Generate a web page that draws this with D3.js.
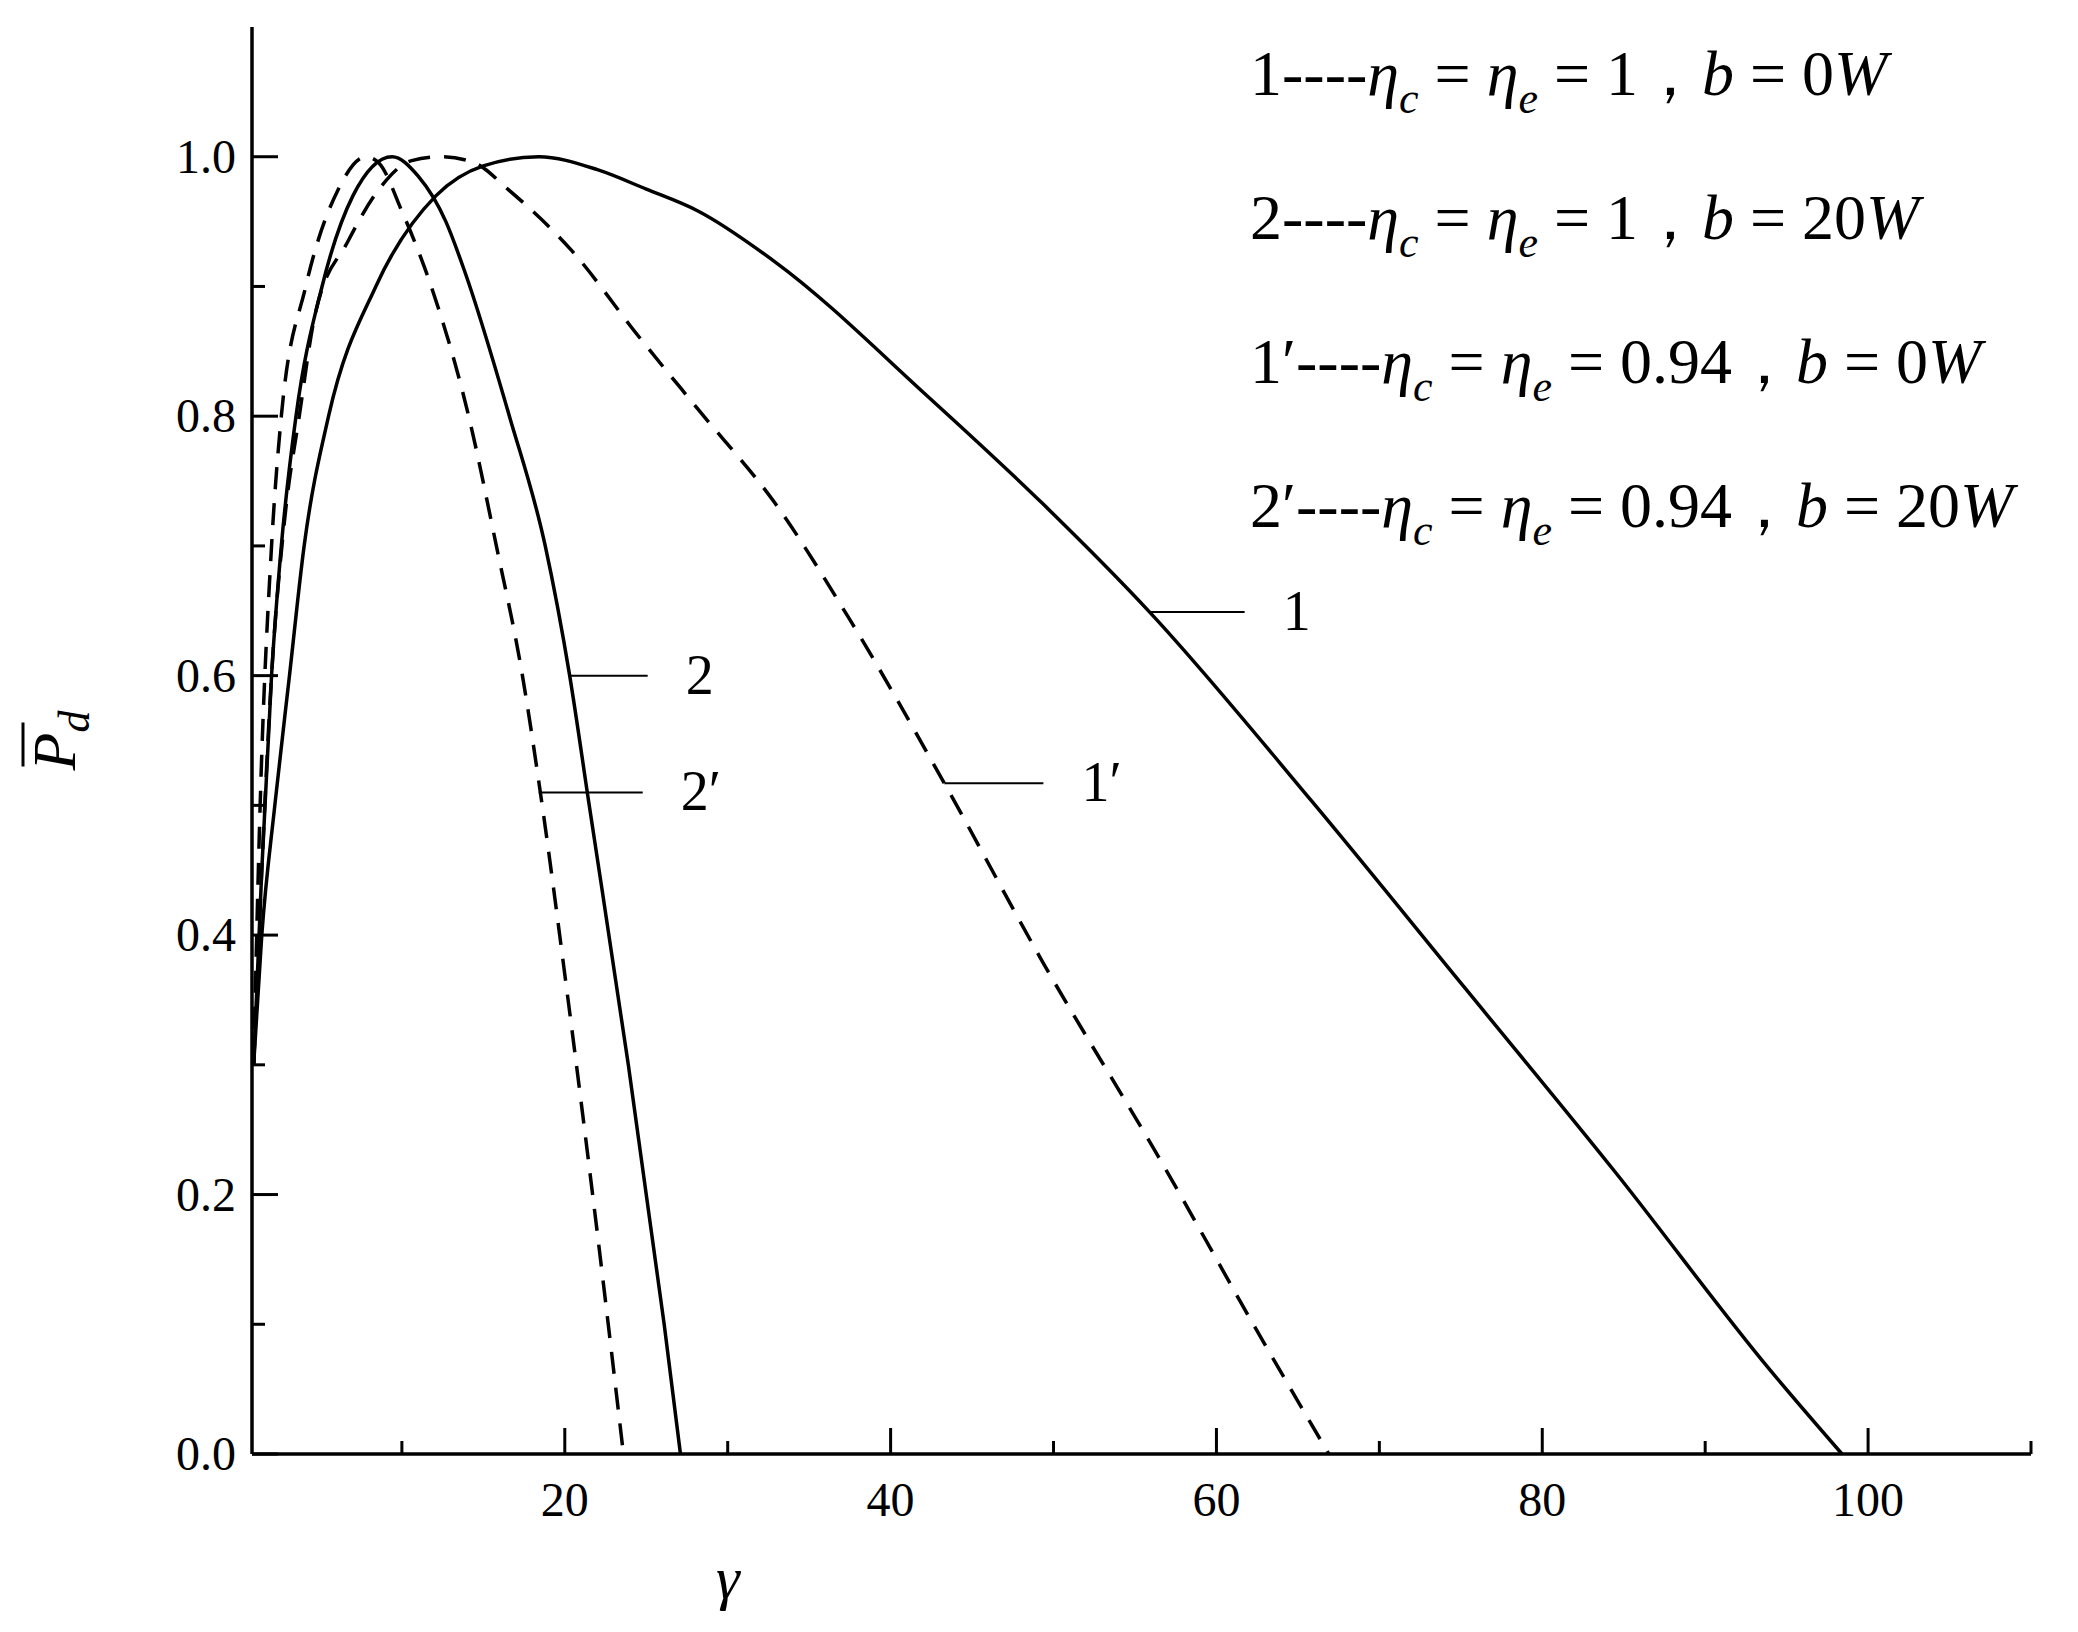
<!DOCTYPE html>
<html><head><meta charset="utf-8">
<script src="https://cdn.jsdelivr.net/npm/d3@7"></script>
<style>body{margin:0;background:#fff}text{font-family:"Liberation Serif","Times New Roman",Times,serif}</style>
</head><body><div id="chart"></div>
<script>
// curve data: [gamma, Pd]
const curve1 = [[0.9,0.30],[1.4,0.40],[2.2,0.50],[3.1,0.60],[4.0,0.70],[5.5,0.80],[8.4,0.90],[12.1,0.97],[15,0.993],[18.4,1.0],[22,0.99],[25,0.975],[28.2,0.958],[32.9,0.919],[42.3,0.815],[49.3,0.733],[55.9,0.649],[65.8,0.504],[75.2,0.36],[84.5,0.217],[93.9,0.066],[98.4,0.0]];
const curve2 = [[0.9,0.30],[1.4,0.45],[2.0,0.60],[2.6,0.70],[3.5,0.80],[5.1,0.90],[7,0.97],[9.4,1.0],[11,0.985],[12.7,0.95],[13.9,0.91],[16.6,0.80],[18.8,0.70],[20.3,0.60],[21.5,0.50],[23.9,0.30],[26.1,0.10],[27.1,0.0]];
const curve1p = [[0.9,0.30],[1.4,0.45],[2.0,0.60],[2.8,0.72],[3.7,0.80],[4.7,0.88],[6.7,0.935],[8.6,0.975],[10.6,0.997],[12.5,1.0],[14.5,0.995],[16.5,0.975],[20.4,0.928],[24.5,0.862],[28.2,0.805],[32.9,0.733],[37.6,0.641],[43.3,0.517],[49.3,0.38],[56.4,0.23],[62.9,0.086],[66.9,0.0]];
const curve2p = [[0.9,0.30],[1.3,0.50],[2.0,0.70],[2.6,0.80],[4.1,0.90],[6.1,0.975],[7.8,1.0],[8.6,0.995],[10.0,0.958],[11.8,0.90],[14.1,0.80],[15.8,0.70],[17.4,0.60],[18.5,0.51],[20.1,0.36],[22,0.17],[23.6,0.0]];
const labels = [
  {name:"1", g:55.9, p:0.649, len:95},
  {name:"2", g:20.3, p:0.60, len:78},
  {name:"2′", g:18.4, p:0.51, len:104},
  {name:"1′", g:43.3, p:0.517, len:99}
];
const xMajor = [20,40,60,80,100], xMinor = [10,30,50,70,90,110];
const yMajor = [0,0.2,0.4,0.6,0.8,1.0], yMinor = [0.1,0.3,0.5,0.7,0.9];
const legend = [
  {n:"1", prime:false, eta:"1", b:"0"},
  {n:"2", prime:false, eta:"1", b:"20"},
  {n:"1", prime:true, eta:"0.94", b:"0"},
  {n:"2", prime:true, eta:"0.94", b:"20"}
];

const W = 2078, H = 1632;
const svg = d3.select("#chart").append("svg").attr("width", W).attr("height", H);
const x = d3.scaleLinear().domain([0.8, 110]).range([252, 2031]);
const y = d3.scaleLinear().domain([0, 1.1]).range([1454, 27]);

// axes lines
svg.append("line").attr("x1", x(0.8)).attr("x2", x(110)).attr("y1", y(0)).attr("y2", y(0)).attr("stroke", "#000").attr("stroke-width", 3.5);
svg.append("line").attr("x1", x(0.8)).attr("x2", x(0.8)).attr("y1", y(0)).attr("y2", y(1.1)).attr("stroke", "#000").attr("stroke-width", 3.5);

const tk = svg.append("g").attr("stroke", "#000").attr("stroke-width", 3);
xMajor.forEach(v => tk.append("line").attr("x1", x(v)).attr("x2", x(v)).attr("y1", y(0)).attr("y2", y(0) - 26));
xMinor.forEach(v => tk.append("line").attr("x1", x(v)).attr("x2", x(v)).attr("y1", y(0)).attr("y2", y(0) - 13));
yMajor.forEach(v => tk.append("line").attr("x1", x(0.8)).attr("x2", x(0.8) + 26).attr("y1", y(v)).attr("y2", y(v)));
yMinor.forEach(v => tk.append("line").attr("x1", x(0.8)).attr("x2", x(0.8) + 13).attr("y1", y(v)).attr("y2", y(v)));

svg.selectAll(".xl").data(xMajor).join("text").attr("x", d => x(d)).attr("y", y(0) + 62)
  .attr("text-anchor", "middle").attr("font-size", 48).text(d => d);
svg.selectAll(".yl").data(yMajor).join("text").attr("x", x(0.8) - 16).attr("y", d => y(d) + 16)
  .attr("text-anchor", "end").attr("font-size", 48).text(d => d.toFixed(1));

svg.append("text").attr("x", x(30)).attr("y", 1598).attr("text-anchor", "middle")
  .attr("font-size", 60).attr("font-style", "italic").text("γ");
const yt = svg.append("g").attr("transform", `translate(75,${y(0.55)}) rotate(-90)`);
yt.append("text").attr("text-anchor", "middle").attr("font-size", 62).attr("font-style", "italic")
  .html('P<tspan font-size="44" dy="14">d</tspan>');
yt.append("line").attr("x1", -26).attr("x2", 18).attr("y1", -52).attr("y2", -52).attr("stroke", "#000").attr("stroke-width", 3);

// curves
const line = d3.line().x(d => x(d[0])).y(d => y(d[1])).curve(d3.curveMonotoneX);
const series = [
  {data: curve1, dash: null}, {data: curve2, dash: null},
  {data: curve1p, dash: "22,14"}, {data: curve2p, dash: "22,14"}
];
svg.selectAll(".curve").data(series).join("path").attr("d", d => line(d.data))
  .attr("fill", "none").attr("stroke", "#000").attr("stroke-width", 3.5)
  .attr("stroke-dasharray", d => d.dash);

// curve labels
labels.forEach(l => {
  svg.append("line").attr("x1", x(l.g)).attr("x2", x(l.g) + l.len).attr("y1", y(l.p)).attr("y2", y(l.p))
    .attr("stroke", "#000").attr("stroke-width", 2);
  svg.append("text").attr("x", x(l.g) + l.len + 38).attr("y", y(l.p) + 18).attr("font-size", 56).text(l.name);
});

// legend
legend.forEach((d, i) => {
  const t = svg.append("text").attr("x", 1250).attr("y", 95 + i * 144).attr("font-size", 64);
  t.append("tspan").text(d.n + (d.prime ? "′" : "") + "----");
  t.append("tspan").attr("font-style", "italic").text("η");
  t.append("tspan").attr("font-style", "italic").attr("font-size", 44).attr("dy", 18).text("c");
  t.append("tspan").attr("dy", -18).text(" = ");
  t.append("tspan").attr("font-style", "italic").text("η");
  t.append("tspan").attr("font-style", "italic").attr("font-size", 44).attr("dy", 18).text("e");
  t.append("tspan").attr("dy", -18).text(" = " + d.eta + "，");
  t.append("tspan").attr("font-style", "italic").text("b");
  t.append("tspan").text(" = " + d.b);
  t.append("tspan").attr("font-style", "italic").text("W");
});
</script></body></html>
